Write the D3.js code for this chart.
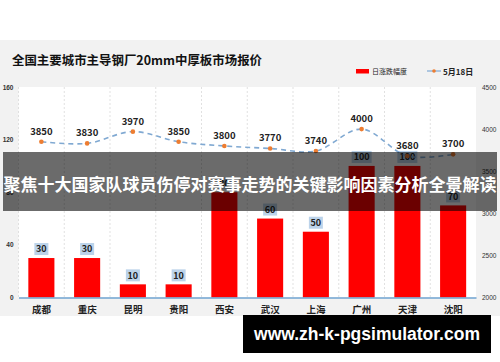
<!DOCTYPE html>
<html>
<head>
<meta charset="utf-8">
<script src="https://cdn.jsdelivr.net/npm/d3@7/dist/d3.min.js"></script>
<style>
  body { margin: 0; background: #fff; }
  svg { display: block; font-family: "Noto Sans CJK SC", "Noto Sans", sans-serif; }
</style>
</head>
<body>
<div id="chart"></div>
<script>
// chart data
const cities = ["成都", "重庆", "昆明", "贵阳", "西安", "武汉", "上海", "广州", "天津", "沈阳"];
const dailyChange = [30, 30, 10, 10, 80, 60, 50, 100, 100, 70];
const prices = [3850, 3830, 3970, 3850, 3800, 3770, 3740, 4000, 3680, 3700];
const leftTicks = [0, 40, 80, 120, 160];
const rightTicks = [2000, 2500, 3000, 3500, 4000, 4500];

const W = 500, H = 362;
const margin = {top: 87, right: 24, bottom: 64.5, left: 18.5};
const innerW = W - margin.left - margin.right;
const innerH = H - margin.top - margin.bottom;

const svg = d3.select("#chart").append("svg")
    .attr("width", W)
    .attr("height", H);

// grey card behind the chart
svg.append("rect")
    .attr("x", 0).attr("y", 40)
    .attr("width", W).attr("height", 276)
    .attr("fill", "#f2f2f2");

// title
svg.append("text")
    .attr("x", 12).attr("y", 65)
    .attr("font-size", 12.5)
    .attr("font-weight", "bold")
    .attr("fill", "#111")
    .attr("textLength", 250)
    .attr("lengthAdjust", "spacingAndGlyphs")
    .text("全国主要城市主导钢厂20mm中厚板市场报价");

// legend
const legend = svg.append("g").attr("font-size", 7).attr("fill", "#222");
legend.append("rect").attr("x", 356).attr("y", 69).attr("width", 13).attr("height", 4.5).attr("fill", "#ff0000");
legend.append("text").attr("x", 372).attr("y", 74).text("日涨跌幅度");
legend.append("line").attr("x1", 427).attr("x2", 441).attr("y1", 71).attr("y2", 71)
    .attr("stroke", "#7fa8d4").attr("stroke-width", 1.2);
legend.append("circle").attr("cx", 434).attr("cy", 71).attr("r", 1.8).attr("fill", "#ed7d31");
legend.append("text").attr("x", 443).attr("y", 74.5).attr("font-size", 8).attr("font-weight", "bold").text("5月18日");

const g = svg.append("g")
    .attr("transform", `translate(${margin.left},${margin.top})`);

// white plot area
g.append("rect")
    .attr("width", innerW).attr("height", innerH)
    .attr("fill", "#fff");

// scales
const x = d3.scaleBand()
    .domain(cities)
    .range([0, innerW])
    .paddingInner(0.43)
    .paddingOuter(0.215);

const step = innerW / cities.length;

const yLeft = d3.scaleLinear()
    .domain([0, 160])
    .range([innerH, 0]);

const yRight = d3.scaleLinear()
    .domain([2000, 4500])
    .range([innerH, 0]);

// vertical dashed grid lines between categories
g.selectAll(".grid")
    .data(cities)
    .join("line")
    .attr("class", "grid")
    .attr("x1", (d, i) => i * step)
    .attr("x2", (d, i) => i * step)
    .attr("y1", 0).attr("y2", innerH)
    .attr("stroke", "#d9d9d9")
    .attr("stroke-width", 0.8)
    .attr("stroke-dasharray", "2,2");

// bars
g.selectAll(".bar")
    .data(cities)
    .join("rect")
    .attr("class", "bar")
    .attr("x", d => x(d))
    .attr("width", x.bandwidth())
    .attr("y", (d, i) => yLeft(dailyChange[i]))
    .attr("height", (d, i) => innerH - yLeft(dailyChange[i]))
    .attr("fill", "#ff0000");

// bar value labels with light blue boxes
const barLabels = g.selectAll(".bar-label")
    .data(cities)
    .join("g")
    .attr("class", "bar-label")
    .attr("transform", (d, i) => `translate(${x(d) + x.bandwidth() / 2},${yLeft(dailyChange[i]) - 9})`);

barLabels.append("rect")
    .attr("x", (d, i) => dailyChange[i] >= 100 ? -10 : -7)
    .attr("y", -6)
    .attr("width", (d, i) => dailyChange[i] >= 100 ? 20 : 14)
    .attr("height", 12)
    .attr("fill", "#bcd3ea");

barLabels.append("text")
    .attr("text-anchor", "middle")
    .attr("y", 3.3)
    .attr("font-size", 9)
    .attr("font-weight", "bold")
    .attr("fill", "#222")
    .text((d, i) => dailyChange[i]);

// price line
const line = d3.line()
    .x((d, i) => x(cities[i]) + x.bandwidth() / 2)
    .y(d => yRight(d))
    .curve(d3.curveCatmullRom);

g.append("path")
    .datum(prices)
    .attr("d", line)
    .attr("fill", "none")
    .attr("stroke", "#80a9d2")
    .attr("stroke-width", 1.6)
    .attr("stroke-dasharray", "5,4");

g.selectAll(".dot")
    .data(prices)
    .join("circle")
    .attr("class", "dot")
    .attr("cx", (d, i) => x(cities[i]) + x.bandwidth() / 2)
    .attr("cy", d => yRight(d))
    .attr("r", 2.3)
    .attr("fill", "#ed7d31");

g.selectAll(".price-label")
    .data(prices)
    .join("text")
    .attr("class", "price-label")
    .attr("x", (d, i) => x(cities[i]) + x.bandwidth() / 2)
    .attr("y", d => yRight(d) - 7)
    .attr("text-anchor", "middle")
    .attr("font-size", 9.5)
    .attr("font-weight", "bold")
    .attr("fill", "#222")
    .text(d => d);

// x axis
const xAxis = g.append("g")
    .attr("transform", `translate(0,${innerH})`)
    .call(d3.axisBottom(x).tickSize(0).tickPadding(9));
xAxis.select(".domain").attr("stroke", "#6fa3d0").attr("stroke-width", 1.3);
xAxis.selectAll("text")
    .attr("font-size", 9.5)
    .attr("font-weight", "bold")
    .attr("fill", "#222")
    .style("font-family", "'Noto Sans CJK SC', sans-serif");

// left axis
const leftAxis = g.append("g")
    .call(d3.axisLeft(yLeft).tickValues(leftTicks).tickSize(0).tickPadding(5));
leftAxis.select(".domain").remove();
leftAxis.selectAll("text")
    .attr("font-size", 6.5)
    .attr("font-weight", "bold")
    .attr("fill", "#333")
    .style("font-family", "'Liberation Sans', sans-serif");

// right axis
const rightAxis = g.append("g")
    .attr("transform", `translate(${innerW},0)`)
    .call(d3.axisRight(yRight).tickValues(rightTicks).tickFormat(d3.format("d")).tickSize(0).tickPadding(6));
rightAxis.select(".domain").remove();
rightAxis.selectAll("text")
    .attr("font-size", 6.5)
    .attr("fill", "#333")
    .style("font-family", "'Liberation Sans', sans-serif");

// banner overlay
svg.append("rect")
    .attr("x", 3).attr("y", 152)
    .attr("width", 494).attr("height", 59)
    .attr("fill", "#000")
    .attr("opacity", 0.58);

svg.append("text")
    .attr("x", 250).attr("y", 191)
    .attr("text-anchor", "middle")
    .attr("font-size", 17)
    .attr("font-weight", "bold")
    .attr("fill", "#fff")
    .attr("textLength", 493)
    .attr("lengthAdjust", "spacingAndGlyphs")
    .text("聚焦十大国家队球员伤停对赛事走势的关键影响因素分析全景解读");

// website tag
svg.append("rect")
    .attr("x", 243).attr("y", 315)
    .attr("width", 248).attr("height", 38)
    .attr("fill", "#000");

svg.append("text")
    .attr("x", 367).attr("y", 340)
    .attr("text-anchor", "middle")
    .attr("font-size", 17.5)
    .attr("font-weight", "bold")
    .attr("fill", "#fff")
    .style("font-family", "'Liberation Sans', Arial, sans-serif")
    .text("www.zh-k-pgsimulator.com");
</script>
</body>
</html>
